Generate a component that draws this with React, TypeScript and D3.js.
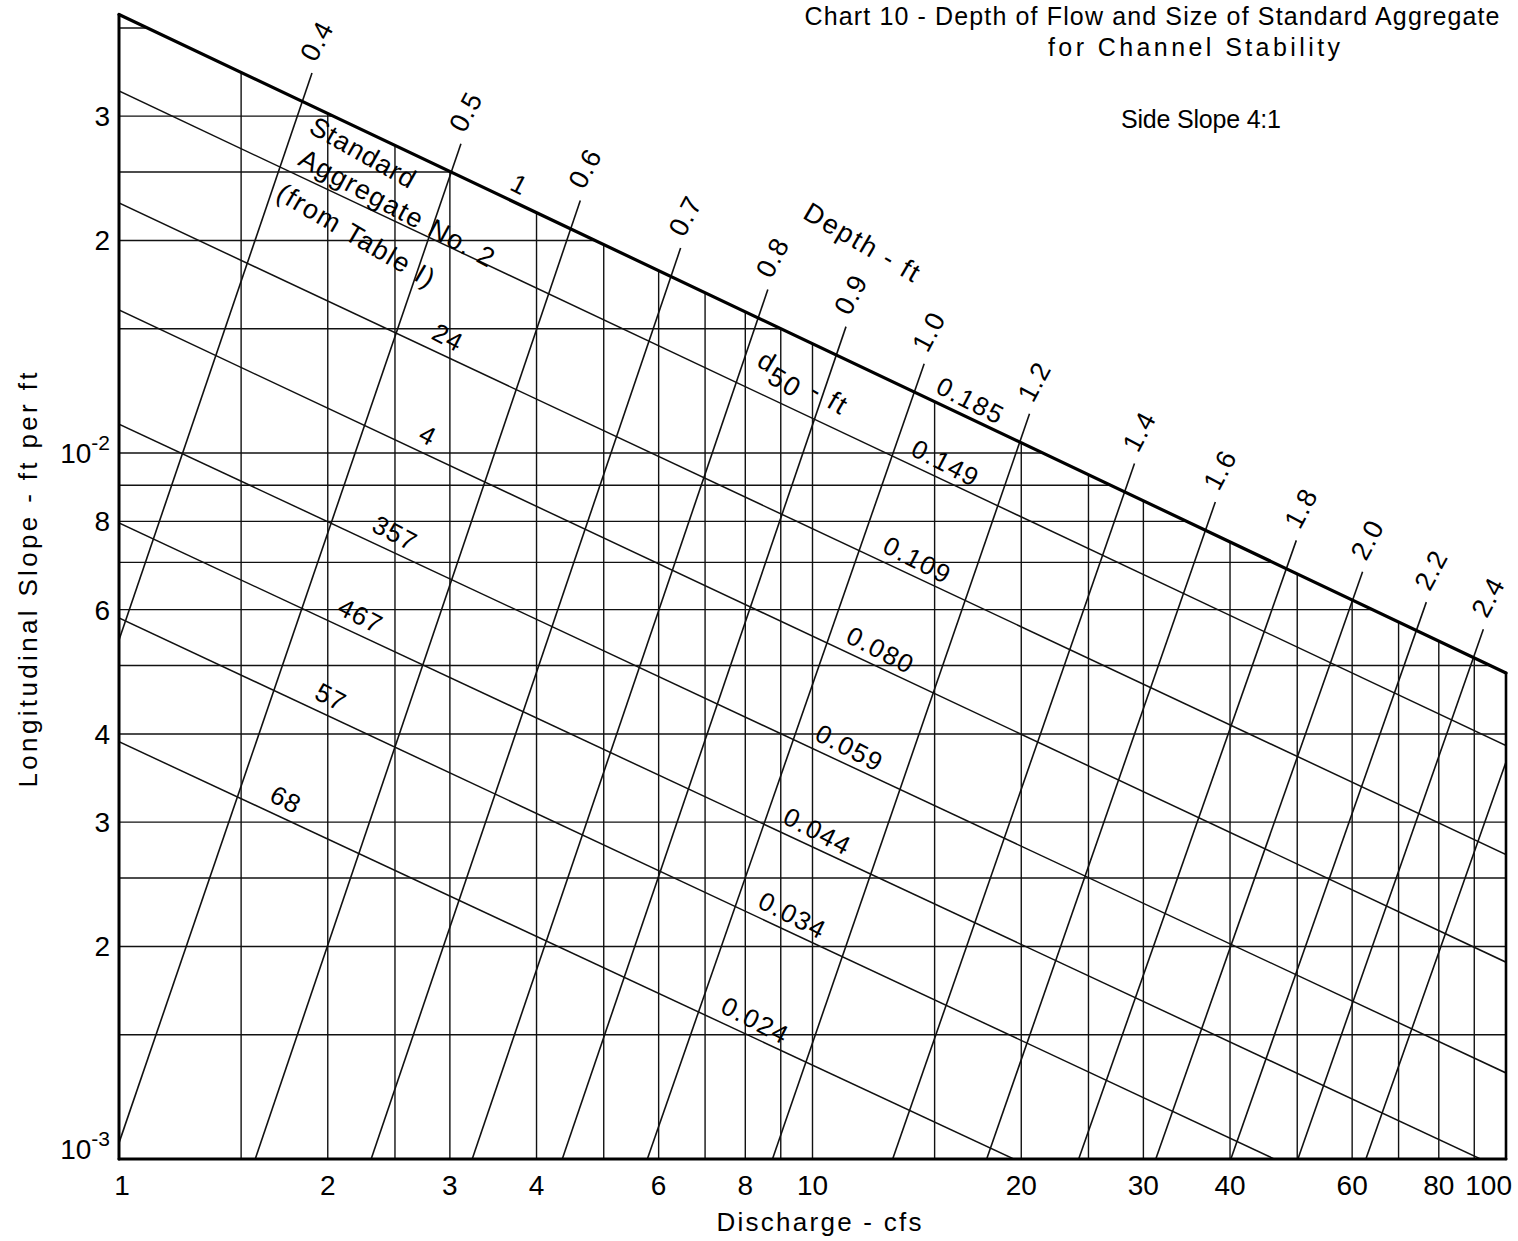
import React from "react";
import * as d3 from "d3";

const WIDTH = 1518;
const HEIGHT = 1241;
const FONT = "'Liberation Sans', Arial, sans-serif";

// ---- Axes -------------------------------------------------------------
const xTickValues = [1, 2, 3, 4, 6, 8, 10, 20, 30, 40, 60, 80, 100];
const xGridValues = [1.5, 2, 2.5, 3, 4, 5, 6, 7, 8, 9, 10, 15, 20, 25, 30, 40, 50, 60, 70, 80, 90];
const yGridValues = [0.0015, 0.002, 0.0025, 0.003, 0.004, 0.005, 0.006, 0.007, 0.008, 0.009, 0.01, 0.015, 0.02, 0.025, 0.03, 0.04];
const yTickValues = [0.001, 0.002, 0.003, 0.004, 0.006, 0.008, 0.01, 0.02, 0.03];
const yTickText = ["10", "2", "3", "4", "6", "8", "10", "2", "3"];
const yTickSup = ["-3", "", "", "", "", "", "-2", "", ""];

// ---- d50 / Standard aggregate lines (slope at Q = 1 and Q = 100 cfs) ---
const d50Labels = ["0.185", "0.149", "0.109", "0.080", "0.059", "0.044", "0.034", "0.024"];
const aggregateLabels = ["1", "2", "24", "4", "357", "467", "57", "68"];
const d50SlopeAtQ1 = [0.0418, 0.03256, 0.0226, 0.01594, 0.01099, 0.00796, 0.00584, 0.0039];
const d50SlopeAtQ100 = [0.00488, 0.00385, 0.0027, 0.0019, 0.001324, 0.000962, 0.000702, 0.000473];
const d50LabelQ = [16.9, 15.56, 14.17, 12.54, 11.31, 10.17, 9.36, 8.27];
const aggregateLabelQ = [3.78, 0, 2.98, 2.79, 2.5, 2.23, 2.02, 1.74];

// ---- Depth lines (lower point and upper point) ----
const depthLabels = ["0.4", "0.5", "0.6", "0.7", "0.8", "0.9", "1.0", "1.2", "1.4", "1.6", "1.8", "2.0", "2.2", "2.4", ""];
const depthStartQ = [1, 1, 1.572, 2.31, 3.231, 4.357, 5.779, 8.756, 13.05, 17.83, 24.2, 31.26, 40.11, 50.11, 62.8];
const depthStartS = [0.005435, 0.001054, 0.001, 0.001, 0.001, 0.001, 0.001, 0.001, 0.001, 0.001, 0.001, 0.001, 0.001, 0.001, 0.001];
const depthEndQ = [1.837, 3.014, 4.475, 6.24, 8.33, 10.8, 13.99, 19.83, 28.02, 36.66, 47.98, 59.75, 73.9, 89.3, 100];
const depthEndS = [0.03142, 0.025, 0.0207, 0.0177, 0.01543, 0.01368, 0.01212, 0.01026, 0.00866, 0.00765, 0.00676, 0.00609, 0.00553, 0.00506, 0.00365];

// ---- Annotation anchors (data coordinates) ----------------------------
const standardTextAt: [number, number] = [2.249, 0.02660];
const aggregateTextAt: [number, number] = [2.52, 0.02220];
const fromTableTextAt: [number, number] = [2.20, 0.02030];
const depthTitleAt: [number, number] = [11.81, 0.01984];
const d50TitleAt: [number, number] = [9.7, 0.01257];

export default function App() {
  const x = d3.scaleLog().domain([1, 100]).range([119, 1506]);
  const y = d3.scaleLog().domain([0.001, 0.01]).range([1159, 453]);
  const L = Math.log10;
  const Q0 = 1, Q1 = 100, S0 = 0.001;

  const lineA = (i: number) => L(d50SlopeAtQ1[i]);
  const lineB = (i: number) => (L(d50SlopeAtQ100[i]) - L(d50SlopeAtQ1[i])) / (L(Q1) - L(Q0));
  const lineAt = (i: number, q: number) => Math.pow(10, lineA(i) + lineB(i) * L(q));
  const bA = lineA(0);
  const bB = lineB(0);

  const lineGen = d3
    .line<[number, number]>()
    .x((d) => x(d[0]))
    .y((d) => y(d[1]));

  const clipPoly: [number, number][] = [
    [Q0, S0],
    [Q1, S0],
    [Q1, lineAt(0, Q1)],
    [Q0, lineAt(0, Q0)],
  ];
  const clipD = lineGen(clipPoly) + "Z";

  const depth = depthLabels.map((lab, i) => {
    const q0 = L(depthStartQ[i]);
    const s0 = L(depthStartS[i]);
    const q1 = L(depthEndQ[i]);
    const s1 = L(depthEndS[i]);
    const m = (s1 - s0) / (q1 - q0);
    let qi = (bA - s0 + m * q0) / (m - bB);
    let clipped = false;
    if (qi > L(Q1)) {
      qi = L(Q1);
      clipped = true;
    }
    const si = s0 + m * (qi - q0);
    const P0 = [x(Math.pow(10, q0)), y(Math.pow(10, s0))];
    const P1 = [x(Math.pow(10, qi)), y(Math.pow(10, si))];
    const dx = P1[0] - P0[0];
    const dy = P1[1] - P0[1];
    const len = Math.hypot(dx, dy);
    const lead = clipped ? 0 : 30;
    const P2 = [P1[0] + (dx / len) * lead, P1[1] + (dy / len) * lead];
    return { lab, P0, P2, clipped };
  });

  const lineAngle = (Math.atan2(y(lineAt(0, 10)) - y(lineAt(0, 1)), x(10) - x(1)) * 180) / Math.PI + 2;

  const annot = (p: [number, number]) => [x(p[0]), y(p[1])];
  const st = annot(standardTextAt);
  const ag = annot(aggregateTextAt);
  const ft = annot(fromTableTextAt);
  const dt = annot(depthTitleAt);
  const d5 = annot(d50TitleAt);

  return (
    <svg
      width={WIDTH}
      height={HEIGHT}
      style={{ position: "absolute", left: 0, top: 0, background: "#fff" }}
      fontFamily={FONT}
    >
      <defs>
        <clipPath id="plotClip">
          <path d={clipD} />
        </clipPath>
      </defs>

      {/* grid */}
      <g clipPath="url(#plotClip)" stroke="#111" strokeWidth={1.4} fill="none">
        {xGridValues.map((v) => (
          <line key={"vx" + v} x1={x(v)} x2={x(v)} y1={y(S0)} y2={y(0.05)} />
        ))}
        {yGridValues.map((v) => (
          <line key={"hy" + v} x1={x(Q0)} x2={x(Q1)} y1={y(v)} y2={y(v)} />
        ))}
        {d50Labels.slice(1).map((lab, k) => {
          const i = k + 1;
          return (
            <path
              key={"d50" + lab}
              d={lineGen([
                [Q0, d50SlopeAtQ1[i]],
                [Q1, d50SlopeAtQ100[i]],
              ]) as string}
              strokeWidth={1.5}
            />
          );
        })}
      </g>

      {/* depth lines */}
      <g stroke="#111" strokeWidth={1.6} fill="none">
        {depth.map((d, i) => (
          <path key={"dep" + i} d={`M${d.P0[0]},${d.P0[1]}L${d.P2[0]},${d.P2[1]}`} />
        ))}
      </g>

      {/* frame: boundary, axes, right edge */}
      <g stroke="#000" fill="none" strokeLinecap="round">
        <path
          d={lineGen([
            [Q0, lineAt(0, Q0)],
            [Q1, lineAt(0, Q1)],
          ]) as string}
          strokeWidth={3.2}
        />
        <line x1={x(Q0)} x2={x(Q0)} y1={y(S0)} y2={y(lineAt(0, Q0))} strokeWidth={3} />
        <line x1={x(Q0)} x2={x(Q1)} y1={y(S0)} y2={y(S0)} strokeWidth={3} />
        <line x1={x(Q1)} x2={x(Q1)} y1={y(S0)} y2={y(lineAt(0, Q1))} strokeWidth={2.6} />
      </g>

      {/* x ticks */}
      <g fontSize={28} fill="#000">
        {xTickValues.map((v, i) => (
          <text
            key={"xt" + v}
            x={i === xTickValues.length - 1 ? x(v) + 6 : x(v) + (v === 1 ? 3 : 0)}
            y={1195}
            textAnchor={i === xTickValues.length - 1 ? "end" : "middle"}
          >
            {v}
          </text>
        ))}
      </g>

      {/* y ticks */}
      <g fontSize={28} fill="#000">
        {yTickValues.map((v, i) => (
          <text key={"yt" + i} x={110} y={y(v) + 10 - (v === S0 ? 10 : 0)} textAnchor="end">
            {yTickText[i]}
            {yTickSup[i] ? (
              <tspan dy={-13} fontSize={21}>
                {yTickSup[i]}
              </tspan>
            ) : null}
          </text>
        ))}
      </g>

      {/* d50 labels */}
      <g fontSize={26} fill="#000" letterSpacing={1.5}>
        {d50Labels.map((lab, i) => {
          const px = x(d50LabelQ[i]);
          const py = y(lineAt(i, d50LabelQ[i])) - 18;
          return (
            <text
              key={"dl" + lab}
              transform={`translate(${px},${py}) rotate(${lineAngle})`}
              textAnchor="middle"
              dominantBaseline="central"
            >
              {lab}
            </text>
          );
        })}
      </g>

      {/* aggregate labels and block text */}
      <g fontSize={26} fill="#000" letterSpacing={1}>
        {aggregateLabels.map((lab, i) => {
          if (i === 1) return null;
          const px = x(aggregateLabelQ[i]);
          const py = y(lineAt(i, aggregateLabelQ[i])) - 20;
          return (
            <text
              key={"ag" + lab}
              transform={`translate(${px},${py}) rotate(${lineAngle})`}
              textAnchor="middle"
              dominantBaseline="central"
            >
              {lab}
            </text>
          );
        })}
        <text
          transform={`translate(${st[0]},${st[1]}) rotate(${lineAngle + 2})`}
          textAnchor="middle"
          dominantBaseline="central"
          fontSize={27}
        >
          Standard
        </text>
        <text
          transform={`translate(${ag[0]},${ag[1]}) rotate(${lineAngle + 1})`}
          textAnchor="middle"
          dominantBaseline="central"
          fontSize={27}
          letterSpacing={1.5}
        >
          {"Aggregate No. " + aggregateLabels[1]}
        </text>
        <text
          transform={`translate(${ft[0]},${ft[1]}) rotate(${lineAngle + 3})`}
          textAnchor="middle"
          dominantBaseline="central"
          fontSize={27}
          letterSpacing={1.5}
        >
          (from Table I)
        </text>
        <text
          transform={`translate(${dt[0]},${dt[1]}) rotate(${lineAngle + 3})`}
          textAnchor="middle"
          dominantBaseline="central"
          fontSize={27}
          letterSpacing={2}
        >
          Depth - ft
        </text>
        <text
          transform={`translate(${d5[0]},${d5[1]}) rotate(${lineAngle + 3})`}
          textAnchor="middle"
          dominantBaseline="central"
          fontSize={27}
          letterSpacing={2}
        >
          d<tspan dy={9}>50</tspan>
          <tspan dy={-9}> - ft</tspan>
        </text>
      </g>

      {/* depth labels */}
      <g fontSize={27} fill="#000" letterSpacing={1}>
        {depth.map((d, i) =>
          d.clipped || !d.lab ? null : (
            <text
              key={"dlab" + i}
              transform={`translate(${d.P2[0] + 5},${d.P2[1] - 32}) rotate(-62)`}
              textAnchor="middle"
              dominantBaseline="central"
            >
              {d.lab}
            </text>
          )
        )}
      </g>

      {/* titles */}
      <g fontSize={25} fill="#000">
        <text x={1152} y={25} textAnchor="middle" textLength={695} lengthAdjust="spacing">
          Chart 10 - Depth of Flow and Size of Standard Aggregate
        </text>
        <text x={1194} y={56} textAnchor="middle" textLength={292} lengthAdjust="spacing">
          for Channel Stability
        </text>
        <text x={1201} y={128} textAnchor="middle" textLength={160} lengthAdjust="spacing">
          Side Slope 4:1
        </text>
        <text x={819} y={1231} textAnchor="middle" fontSize={26} textLength={205} lengthAdjust="spacing">
          Discharge - cfs
        </text>
        <text
          transform={`translate(28,580) rotate(-90)`}
          textAnchor="middle"
          dominantBaseline="central"
          fontSize={26}
          textLength={415}
          lengthAdjust="spacing"
        >
          Longitudinal Slope - ft per ft
        </text>
      </g>
    </svg>
  );
}
